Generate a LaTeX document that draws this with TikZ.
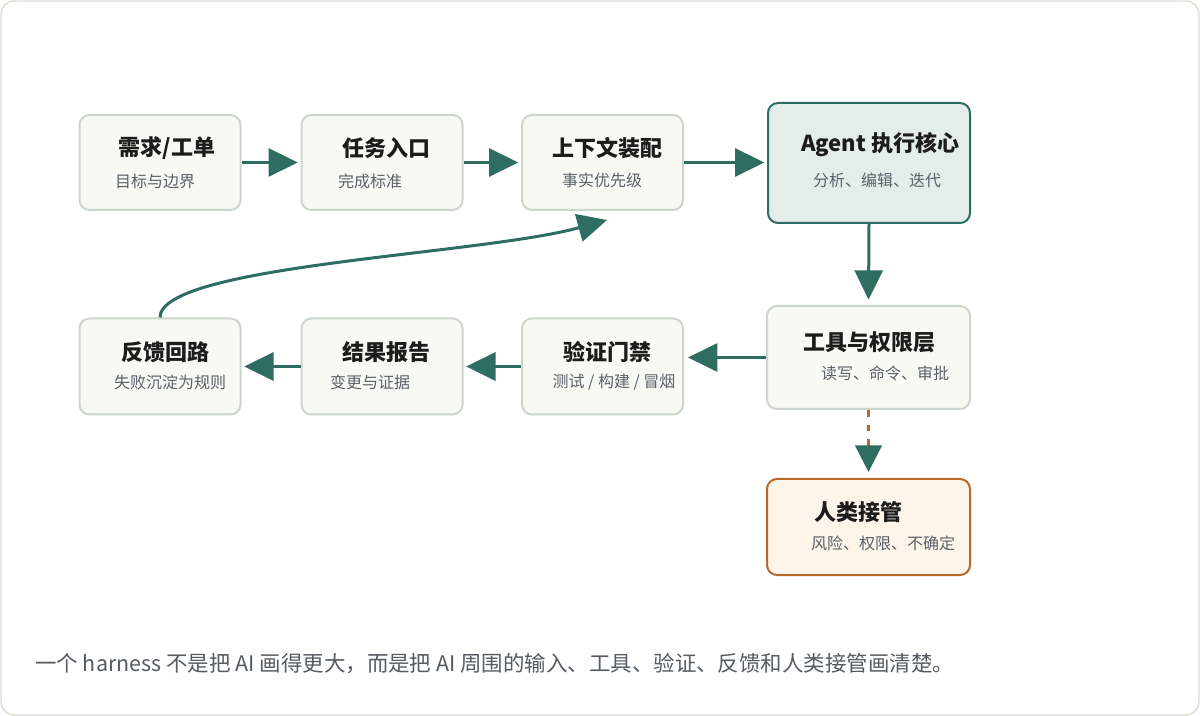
\documentclass[tikz,border=0pt]{standalone}
\usepackage{fontspec}
\setmainfont{Noto Sans CJK SC}
\usetikzlibrary{arrows.meta}
\definecolor{teal1}{RGB}{46,110,98}
\definecolor{boxline}{RGB}{205,214,204}
\definecolor{boxfill}{RGB}{248,249,245}
\definecolor{agentfill}{RGB}{227,237,234}
\definecolor{humanline}{RGB}{181,105,44}
\definecolor{humanfill}{RGB}{253,245,234}
\definecolor{titlec}{RGB}{28,28,28}
\definecolor{subc}{RGB}{91,97,104}
\definecolor{footc}{RGB}{85,91,96}
\definecolor{framec}{RGB}{221,221,211}
\begin{document}
\begin{tikzpicture}[x=0.75pt,y=-0.75pt,
  box/.style={draw=boxline, fill=boxfill, line width=1.5pt, rounded corners=7.5pt,
    minimum width=120.75pt, minimum height=71.25pt, inner sep=0pt},
  ttl/.style={font=\fontsize{16.5}{18}\selectfont\bfseries, text=titlec, inner sep=0pt},
  sub/.style={font=\fontsize{12}{14}\selectfont, text=subc, inner sep=0pt},
  flow/.style={draw=teal1, line width=2.25pt, shorten >=2pt,
    -{Triangle[length=22pt,width=21pt]}},
]
\useasboundingbox (0,0) rectangle (1200,716);
\fill[white] (0,0) rectangle (1200,716);
\draw[draw=framec, fill=white, line width=1pt, rounded corners=10pt] (1,1) rectangle (1199,715);

% boxes
\node[box] (b1) at (160,162.5) {};
\node[box] (b2) at (382,162.5) {};
\node[box] (b3) at (602.5,162.5) {};
\node[box, draw=teal1, fill=agentfill, minimum width=151.5pt, minimum height=90pt] (b4) at (869,163) {};
\node[box, minimum width=152.25pt, minimum height=77.25pt] (b5) at (868.5,357.5) {};
\node[box, draw=humanline, fill=humanfill, minimum width=152.25pt, minimum height=72pt] (b6) at (868.5,527) {};
\node[box, minimum height=72pt] (b7) at (602.5,366.5) {};
\node[box, minimum height=72pt] (b8) at (382,366.5) {};
\node[box, minimum height=72pt] (b9) at (160,366.5) {};

% texts
\node[ttl] (t1) at (167,148) {需求/工单};
\node[sub] (s1) at (155,181) {目标与边界};
\node[ttl] (t2) at (386,148) {任务入口};
\node[sub] (s2) at (370,181) {完成标准};
\node[ttl] (t3) at (607,148) {上下文装配};
\node[sub] (s3) at (602,180) {事实优先级};
\node[ttl] (t4) at (880,145) {Agent 执行核心};
\node[sub] (s4) at (877,180) {分析、编辑、迭代};
\node[ttl] (t5) at (869,342) {工具与权限层};
\node[sub] (s5) at (885,373) {读写、命令、审批};
\node[ttl] (t6) at (858,512) {人类接管};
\node[sub] (s6) at (883,543) {风险、权限、不确定};
\node[ttl] (t7) at (607,352) {验证门禁};
\node[sub] (s7) at (614,382) {测试 / 构建 / 冒烟};
\node[ttl] (t8) at (386,352) {结果报告};
\node[sub] (s8) at (370,382) {变更与证据};
\node[ttl] (t9) at (165,352) {反馈回路};
\node[sub] (s9) at (170,382) {失败沉淀为规则};

% connectors
\draw[flow] (b1.east) -- (b2.west);
\draw[flow] (b2.east) -- (b3.west);
\draw[flow] (b3.east) -- (b3.east -| b4.west);
\draw[flow, shorten >=4pt] (b4.south) -- (b5.north);
\draw[flow, shorten >=3pt] (b5.west) -- (b5.west -| b7.east);
\draw[flow] (b7.west) -- (b8.east);
\draw[flow] (b8.west) -- (b9.east);
\draw[humanline, line width=1.8pt, dash pattern=on 5pt off 6pt, shorten >=4.5pt,
  -{Triangle[length=20pt,width=20pt,color=teal1]}] (b5.south) -- (b6.north);
\coordinate (fbend) at (607,220);
\draw[flow, shorten >=0pt] (b9.north) .. controls (160,265) and (480,255) .. (fbend);

% footer
\node[anchor=west, inner sep=0pt, font=\fontsize{16.1}{18}\selectfont, text=footc] (ft) at (35,664)
  {一个 harness 不是把 AI 画得更大，而是把 AI 周围的输入、工具、验证、反馈和人类接管画清楚。};
\end{tikzpicture}
\end{document}
